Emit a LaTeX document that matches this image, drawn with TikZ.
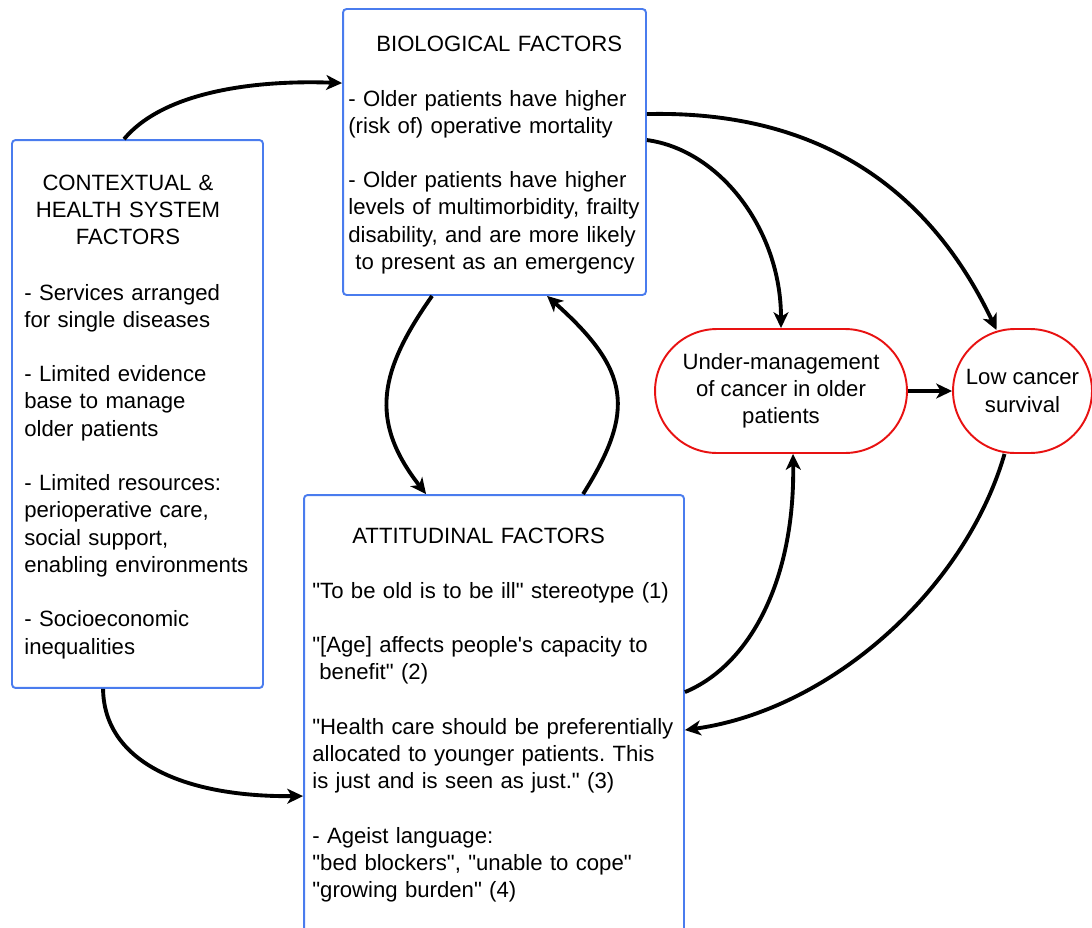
\documentclass[tikz,border=0pt]{standalone}
\usepackage{fontspec}
\setmainfont{Liberation Sans}
\usetikzlibrary{calc,arrows.meta}

\definecolor{boxblue}{RGB}{74,124,238}
\definecolor{outred}{RGB}{232,18,18}
\frenchspacing

\begin{document}
\begin{tikzpicture}[x=0.02cm, y=-0.02cm, >={Stealth[length=9pt,width=8.5pt,inset=2.5pt]},
    factorbox/.style={draw=boxblue, line width=1.1pt, rounded corners=2pt, inner sep=0pt},
    outcome/.style={draw=outred, line width=1.1pt, rounded corners=1.24cm, minimum height=2.48cm,
        align=center, inner sep=0pt, font=\txtfont},
    bodytext/.style={anchor=base west, align=left, text width=10cm, inner sep=0pt, font=\txtfont},
    link/.style={->, line width=2.2pt}]
        % --- 1. Parameters ---
        \def\txtfont{\fontsize{12.6}{15.5}\selectfont}
        \def\gap{15.5pt}
        \def\q{\textquotedbl}
        \useasboundingbox (0,0) rectangle (1092,927);

        % --- 2. Factor boxes ---
        \node[factorbox, minimum width=5.02cm, minimum height=10.96cm] (ctx) at (137.5,414) {};
        \node[factorbox, minimum width=6.06cm, minimum height=5.72cm] (bio) at (494.5,152) {};
        \node[factorbox, minimum width=7.6cm, minimum height=9cm] (att) at (494,720) {};

        % --- 3. Outcomes ---
        \node[outcome, minimum width=5.04cm] (under) at (781,391)
            {Under-management\\of cancer in older\\patients};
        \node[outcome, minimum width=2.78cm] (low) at (1022.5,391)
            {Low cancer\\survival};

        % --- 4. Box texts ---
        \node[anchor=base, align=center, text width=5cm, inner sep=0pt, font=\txtfont] (ctxtitle) at (128,190)
            {CONTEXTUAL \&\\HEALTH SYSTEM\\FACTORS};
        \node[bodytext] (ctxtext) at (24,300)
            {- Services arranged\\
             for single diseases\\[\gap]
             - Limited evidence\\
             base to manage\\
             older patients\\[\gap]
             - Limited resources:\\
             perioperative care,\\
             social support,\\
             enabling environments\\[\gap]
             - Socioeconomic\\
             inequalities};

        \node[bodytext] (biotitle) at (376,51) {BIOLOGICAL FACTORS};
        \node[bodytext] (biotext) at (348,106)
            {- Older patients have higher\\
             (risk of) operative mortality\\[\gap]
             - Older patients have higher\\
             levels of multimorbidity, frailty\\
             disability, and are more likely\\
             \hspace*{4pt}to present as an emergency};

        \node[bodytext] (atttitle) at (352,543) {ATTITUDINAL FACTORS};
        \node[bodytext] (atttext) at (312,598)
            {\q To be old is to be ill\q{} stereotype (1)\\[\gap]
             \q[Age] affects people\textquotesingle s capacity to\\
             \hspace*{4pt}benefit\q{} (2)\\[\gap]
             \q Health care should be preferentially\\
             allocated to younger patients. This\\
             is just and is seen as just.\q{} (3)\\[\gap]
             - Ageist language:\\
             \q bed blockers\q, \q unable to cope\q\\
             \q growing burden\q{} (4)};

        % --- 5. Connectors ---
        \draw[link] ($(ctx.north west)+(113,0)$) .. controls (165,90) and (260,80) .. ($(bio.north west)+(0,75)$);
        \draw[link] ($(bio.north east)+(0,106)$) .. controls (820,110) and (930,190) .. ($(low.north)+(-26,2)$);
        \draw[link] ($(bio.north east)+(0,132)$) .. controls (720,150) and (781,230) .. (under.north);
        \draw[link] ($(bio.south west)+(90,0)$) .. controls (380,370) and (368,420) .. ($(att.north west)+(123,0)$);
        \draw[link] ($(att.north west)+(280,0)$) .. controls (636,410) and (630,370) .. ($(bio.south west)+(205,0)$);
        \draw[link] (under.east) -- (low.west);
        \draw[link] ($(att.north east)+(0,198)$) .. controls (750,665) and (795,580) .. ($(under.south)+(12,0)$);
        \draw[link] ($(low.south)+(-18,0)$) .. controls (965,590) and (830,710) .. ($(att.north east)+(0,236)$);
        \draw[link] ($(ctx.south west)+(92,0)$) .. controls (104,760) and (180,797) .. ($(att.north west)+(0,302)$);
    \end{tikzpicture}
\end{document}
